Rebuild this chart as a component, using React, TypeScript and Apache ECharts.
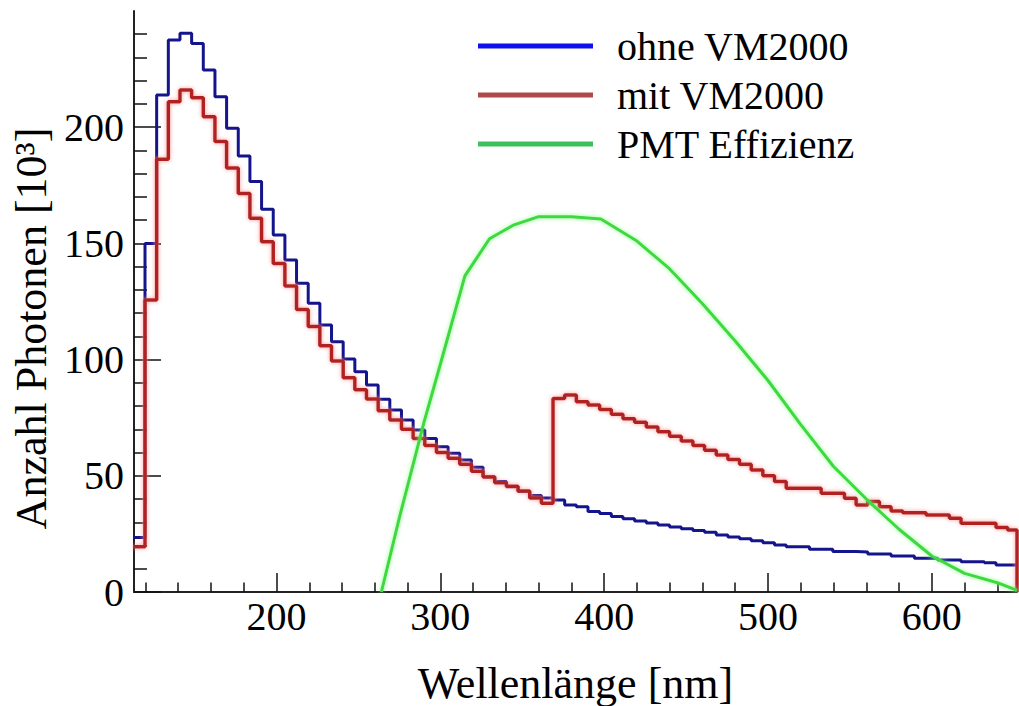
import React, { useEffect, useRef } from "react";
import * as echarts from "echarts";

// Histogram binning (nm)
const BIN_START = 112.6;
const BIN_WIDTH = 7.116;
const X_MIN = 113;
const X_MAX = 652;

// Anzahl Photonen [10^3] per bin
const ohneVM2000 = [
  23.4, 150, 213.9, 237.5, 240.4, 236, 224.6, 213.1, 199.5, 187.6,
  176.6, 164.7, 153.6, 142.9, 132.8, 124.2, 114.9, 107.7, 100.3, 94.8,
  89.1, 82.9, 78.3, 74, 69.7, 66.1, 62.5, 59.7, 56.8, 53.7,
  49.6, 47.5, 45.3, 43.2, 41.5, 40.5, 39.6, 37.4, 36.7, 34.6,
  33.8, 32.5, 31.5, 30.6, 29.7, 28.8, 28, 27.2, 26.5, 25.7,
  24.5, 23.7, 22.9, 22.1, 21.2, 20.2, 19.5, 19.5, 18.4, 18.4,
  17.4, 17.4, 17.2, 16.4, 16.4, 15.5, 15.5, 14.5, 14.5, 13.8,
  13.8, 13, 13, 12.6, 11.6, 11.6,
];

const mitVM2000 = [
  19.5, 125.6, 186.2, 211, 216, 212.7, 204.5, 193.8, 182.4, 171.5,
  160.8, 150.7, 141.4, 131.7, 121.6, 114.2, 106, 99.4, 92.2, 87,
  83, 78, 74, 70, 66, 63, 60, 57.5, 55, 52,
  49.5, 47, 45.5, 43.5, 40.5, 38.2, 83.3, 84.8, 81.9, 80.5,
  78.5, 76.5, 74.5, 73, 71, 69, 67, 65, 63, 61,
  59, 57, 55, 52.5, 50, 47.5, 44.6, 44.6, 44.6, 42.5,
  42.5, 40.3, 37.4, 38.9, 36.7, 34.9, 34.1, 34.1, 33.1, 33.1,
  31.7, 29.6, 29.6, 29.6, 27.8, 26.7,
];

// PMT efficiency (scaled to the photon axis)
const pmtWavelength = [264, 275, 290, 300, 315, 330, 345, 360, 380, 398, 420, 440, 460, 480, 500, 520, 540, 560, 580, 600, 620, 640, 652];
const pmtEfficiency = [0, 32, 73, 98, 136, 152, 158, 161.5, 161.5, 160.5, 151, 139, 124, 108, 91, 72, 54, 40, 27, 15.5, 8, 4, 0.7];

const xLabels = [200, 300, 400, 500, 600];
const xMinorTicks = [120, 140, 160, 180, 220, 240, 260, 280, 320, 340, 360, 380, 420, 440, 460, 480, 520, 540, 560, 580, 620, 640];
const yLabels = [0, 50, 100, 150, 200];
const yMinorTicks = [10, 20, 30, 40, 60, 70, 80, 90, 110, 120, 130, 140, 160, 170, 180, 190, 210, 220, 230, 240];

const FONT = "Liberation Serif";

function histogram(values: number[], dropAtEnd: boolean) {
  const pts: number[][] = values.map((v, i) => [BIN_START + i * BIN_WIDTH, v]);
  pts.push([X_MAX, values[values.length - 1]]);
  if (dropAtEnd) pts.push([X_MAX, 0]);
  return pts;
}

export default function App() {
  const ref = useRef<HTMLDivElement>(null);
  useEffect(() => {
    if (!ref.current) return;
    const chart = echarts.init(ref.current, null, { renderer: "svg" });
    const labelStyle = { fontFamily: FONT, fontSize: 40, color: "#000" };
    chart.setOption({
      animation: false,
      backgroundColor: "#fff",
      grid: { left: 134, right: 2, top: 11, bottom: 114, containLabel: false, outerBoundsMode: "none" },
      legend: {
        orient: "vertical",
        left: 473,
        top: 21,
        itemWidth: 115,
        itemHeight: 5,
        itemGap: 9,
        icon: "rect",
        textStyle: { ...labelStyle, padding: [0, 0, 0, 19] },
        data: [
          { name: "ohne VM2000", itemStyle: { color: "#1010ee" } },
          { name: "mit VM2000", itemStyle: { color: "#b04a4a" } },
          { name: "PMT Effizienz", itemStyle: { color: "#3cc060" } },
        ],
      },
      xAxis: [
        {
          type: "value",
          min: X_MIN,
          max: X_MAX,
          position: "bottom",
          axisLine: { show: true, lineStyle: { color: "#222", width: 2 } },
          axisTick: { show: true, inside: true, length: 19, customValues: xLabels, lineStyle: { color: "#111", width: 1.5 } },
          axisLabel: { ...labelStyle, margin: 4, customValues: xLabels },
          splitLine: { show: false },
          name: "Wellenlänge [nm]",
          nameLocation: "middle",
          nameGap: 69,
          nameTextStyle: { fontFamily: FONT, fontSize: 44, color: "#000" },
        },
        {
          type: "value",
          min: X_MIN,
          max: X_MAX,
          position: "bottom",
          axisLine: { show: false },
          axisTick: { show: true, inside: true, length: 9.5, customValues: xMinorTicks, lineStyle: { color: "#111", width: 1.5 } },
          axisLabel: { show: false },
          splitLine: { show: false },
        },
      ],
      yAxis: [
        {
          type: "value",
          min: 0,
          max: 250,
          position: "left",
          axisLine: { show: true, lineStyle: { color: "#222", width: 2 } },
          axisTick: { show: true, inside: true, length: 27, customValues: yLabels, lineStyle: { color: "#111", width: 1.5 } },
          axisLabel: { ...labelStyle, margin: 10, customValues: yLabels },
          splitLine: { show: false },
          name: "Anzahl Photonen [10³]",
          nameLocation: "middle",
          nameGap: 80,
          nameTextStyle: { fontFamily: FONT, fontSize: 44, color: "#000", padding: [0, 54, 0, 0] },
        },
        {
          type: "value",
          min: 0,
          max: 250,
          position: "left",
          axisLine: { show: false },
          axisTick: { show: true, inside: true, length: 13, customValues: yMinorTicks, lineStyle: { color: "#111", width: 1.5 } },
          axisLabel: { show: false },
          splitLine: { show: false },
        },
      ],
      series: [
        {
          name: "ohne VM2000",
          type: "line",
          step: "end",
          symbol: "none",
          data: histogram(ohneVM2000, false),
          lineStyle: { color: "#14148c", width: 3 },
          itemStyle: { color: "#14148c" },
        },
        {
          name: "mit VM2000",
          type: "line",
          step: "end",
          symbol: "none",
          data: histogram(mitVM2000, true),
          lineStyle: { color: "#b02424", width: 3.5, shadowColor: "rgba(255,140,140,0.9)", shadowBlur: 4 },
          itemStyle: { color: "#b02424" },
        },
        {
          name: "PMT Effizienz",
          type: "line",
          symbol: "none",
          data: pmtWavelength.map((w, i) => [w, pmtEfficiency[i]]),
          lineStyle: { color: "#3fd83f", width: 3, shadowColor: "rgba(130,255,130,0.9)", shadowBlur: 4 },
          itemStyle: { color: "#3fd83f" },
        },
      ],
    });
    return () => chart.dispose();
  }, []);
  return <div ref={ref} style={{ position: "absolute", left: 0, top: 0, width: 1019, height: 706 }} />;
}
